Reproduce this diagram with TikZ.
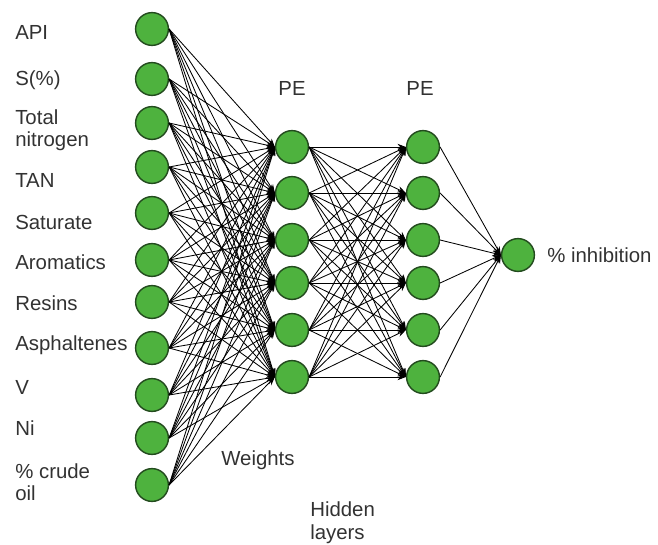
\documentclass[tikz,border=0pt]{standalone}
\usepackage{fontspec}
\setmainfont{Liberation Sans}
\usetikzlibrary{arrows.meta}
\definecolor{NeuronGreen}{RGB}{78,178,62}
\definecolor{NeuronEdge}{RGB}{35,75,30}
\definecolor{LabelGray}{RGB}{50,50,50}

\begin{document}
\begin{tikzpicture}[x=0.025cm, y=-0.025cm,
    neuron/.style={circle, draw=NeuronEdge, fill=NeuronGreen, line width=1pt, minimum size=0.82cm, inner sep=0pt},
    lbl/.style={text=LabelGray, font=\fontsize{14.5}{15.5}\selectfont, align=left, inner sep=0pt},
    wire/.style={line width=0.6pt, -{Stealth[length=6pt,width=4.5pt]}}]
    \useasboundingbox (0,0) rectangle (658,545);
    % input layer
    \foreach \y [count=\i] in {29,79,123,167,213,260,302,348,395,438,485}
      \node[neuron] (in\i) at (152,\y) {};
    \foreach \y/\t [count=\i] in {32/API, 80/S(\%), 130/{Total\\nitrogen}, 180/TAN, 222/Saturate, 262/Aromatics, 303/Resins, 345/Asphaltenes, 387/V, 428/Ni, 482/{\% crude\\oil}}
      \node[lbl, anchor=west] (lab\i) at (15,\y) {\t};
    % hidden layers
    \foreach \y [count=\j] in {147,193,240,283,330,377} {
      \node[neuron] (ha\j) at (292,\y) {};
      \node[neuron] (hb\j) at (423,\y) {};
    }
    \node[neuron] (out) at (518,255) {};
    % weights
    \foreach \i in {1,...,11}
      \foreach \j in {1,...,6}
        \draw[wire] (in\i.east) -- (ha\j.west);
    \foreach \i in {1,...,6}
      \foreach \j in {1,...,6}
        \draw[wire] (ha\i.east) -- (hb\j.west);
    \foreach \j in {1,...,6}
      \draw[wire] (hb\j.east) -- (out.west);
    % texts
    \node[lbl] (pe1) at (292,88) {PE};
    \node[lbl] (pe2) at (420,88) {PE};
    \node[lbl, anchor=west] (res) at (547,255) {\% inhibition};
    \node[lbl, anchor=west] (wts) at (221,460) {Weights};
    \node[lbl, anchor=west, font=\fontsize{14.5}{16.5}\selectfont] (hid) at (310,523) {Hidden\\layers};
\end{tikzpicture}
\end{document}
